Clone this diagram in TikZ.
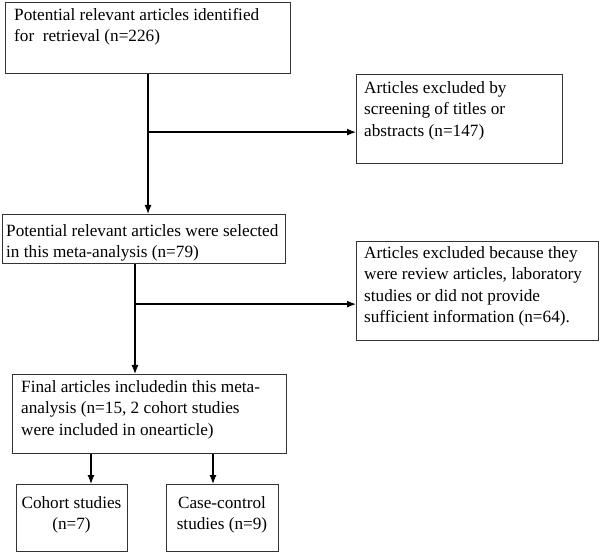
\documentclass[tikz,border=0pt]{standalone}
\usepackage{fontspec}
\setmainfont{Liberation Serif}
\usetikzlibrary{arrows.meta,calc}
\begin{document}
\begin{tikzpicture}[x=1pt,y=-1pt,
 box/.style={draw=black!80, line width=1.1pt, anchor=north west, inner sep=0pt},
 txt/.style={anchor=north west, inner sep=0pt, align=left, font=\fontsize{17.2}{21.5}\selectfont},
 ctxt/.style={anchor=north, inner sep=0pt, align=center, font=\fontsize{17.2}{21.5}\selectfont},
 arr/.style={line width=1.2pt, -{Latex[length=9pt,width=7pt]}}]
\useasboundingbox (0,0) rectangle (600,553);
% boxes
\node[box, minimum width=285pt, minimum height=71pt] (b1) at (5,2) {};
\node[box, minimum width=206pt, minimum height=89pt] (b2) at (356,74) {};
\node[box, minimum width=283pt, minimum height=49pt] (b3) at (2,214) {};
\node[box, minimum width=242pt, minimum height=99pt] (b4) at (356,241) {};
\node[box, minimum width=274pt, minimum height=79pt] (b5) at (12,374) {};
\node[box, minimum width=111pt, minimum height=67pt] (b6) at (16,484) {};
\node[box, minimum width=112pt, minimum height=67pt] (b7) at (166,484) {};
% texts
\node[txt] (t1) at (14,8) {Potential relevant articles identified\\for~ retrieval (n=226)};
\node[txt] (t2) at (364,81) {Articles excluded by\\screening of titles or\\abstracts (n=147)};
\node[txt] (t3) at (6,224) {Potential relevant articles were selected\\in this meta-analysis (n=79)};
\node[txt] (t4) at (364,246) {Articles excluded because they\\were review articles, laboratory\\studies or did not provide\\sufficient information (n=64).};
\node[txt] (t5) at (21,380) {Final articles includedin this meta-\\analysis (n=15, 2 cohort studies\\were included in onearticle)};
\node[ctxt] (t6) at (71.5,496) {Cohort studies\\(n=7)};
\node[ctxt] (t7) at (222,496) {Case-control\\studies (n=9)};
% connectors
\draw[arr] (b1.south) -- (b1.south |- b3.north);
\path (b1.south) ++(0,58) coordinate (j1);
\draw[arr] (j1) -- (j1 -| b2.west);
\path (b3.south west) ++(133,0) coordinate (s3);
\draw[arr] (s3) -- (s3 |- b5.north);
\path (s3) ++(0,40) coordinate (j2);
\draw[arr] (j2) -- (j2 -| b4.west);
\path (b5.south west) ++(79,0) coordinate (s5a);
\draw[arr] (s5a) -- (s5a |- b6.north);
\path (b5.south west) ++(201,0) coordinate (s5b);
\draw[arr] (s5b) -- (s5b |- b7.north);
\end{tikzpicture}
\end{document}
